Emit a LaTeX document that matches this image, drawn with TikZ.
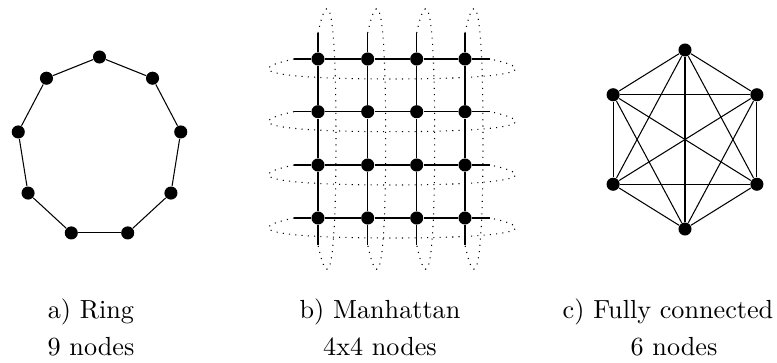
\documentclass[tikz,border=0pt]{standalone}
\usepackage{tikz}
\usetikzlibrary{calc}

\begin{document}
\begin{tikzpicture}[x=0.382pt,y=-0.382pt,
    vtx/.style={circle,fill=black,inner sep=0pt,minimum size=5pt},
    wrap/.style={dotted},
    lbl/.style={anchor=base}]
  \useasboundingbox (0,0) rectangle (777,362);
  % ring
  \foreach \i in {0,...,8}
    \node[vtx] (r\i) at ({99.5+82.5*cos(90+40*\i)},{147.7-90.7*sin(90+40*\i)}) {};
  \foreach \i [remember=\i as \j (initially 8)] in {0,...,8}
    \draw (r\j) -- (r\i);
  % manhattan grid
  \foreach \c/\gx in {1/318,2/367.7,3/416.7,4/465}
    \foreach \r/\gy in {1/59,2/111.7,3/165,4/218}
      \node[vtx] (g\r\c) at (\gx,\gy) {};
  \foreach \r/\gy in {1/59,2/111.7,3/165,4/218} {
    \coordinate (hl\r) at (294,\gy);
    \coordinate (hr\r) at (490,\gy);
    \draw (hl\r) -- (g\r1) -- (g\r2) -- (g\r3) -- (g\r4) -- (hr\r);
    \draw[wrap] (hl\r) .. controls +(-65,14) and +(-95,0) .. ($(hl\r)!0.5!(hr\r)+(0,20)$)
      .. controls +(95,0) and +(65,14) .. (hr\r);
  }
  \foreach \c/\gx in {1/318,2/367.7,3/416.7,4/465} {
    \coordinate (vt\c) at (\gx,33);
    \coordinate (vb\c) at (\gx,245);
    \draw (vt\c) -- (g1\c) -- (g2\c) -- (g3\c) -- (g4\c) -- (vb\c);
    \draw[wrap] (vt\c) .. controls +(14,-65) and +(0,-95) .. ($(vt\c)!0.5!(vb\c)+(18,0)$)
      .. controls +(0,95) and +(14,65) .. (vb\c);
  }
  % fully connected
  \foreach \i in {0,...,5}
    \node[vtx] (f\i) at ({685+83*cos(90+60*\i)},{139.5-89.5*sin(90+60*\i)}) {};
  \foreach \i in {0,...,5}
    \foreach \j in {0,...,5} {
      \ifnum\i<\j \draw (f\i) -- (f\j); \fi
    }
  % captions
  \node[lbl] (capa) at (91,318) {a) Ring};
  \node[lbl] (numa) at (91,355) {9 nodes};
  \node[lbl] (capb) at (380,318) {b) Manhattan};
  \node[lbl] (numb) at (380,355) {4x4 nodes};
  \node[lbl] (capc) at (668,318) {c) Fully connected};
  \node[lbl] (numc) at (674,355) {6 nodes};
\end{tikzpicture}
\end{document}
